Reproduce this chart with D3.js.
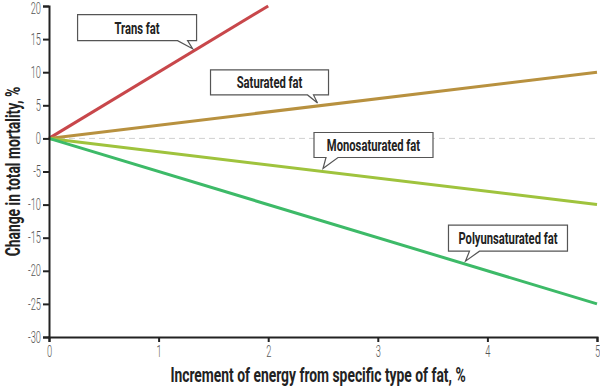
<!DOCTYPE html>
<html>
<head>
<meta charset="utf-8">
<script src="https://cdn.jsdelivr.net/npm/d3@7"></script>
<style>
body { margin: 0; background: #fff; }
svg text { font-family: "Roboto", "DejaVu Sans", sans-serif; }
.tick text { fill: #555; font-size: 16px; font-weight: 300; }
.title { font-weight: bold; font-size: 21px; fill: #222; }
.callout text { font-weight: bold; font-size: 17px; fill: #222; }
</style>
</head>
<body>
<svg id="chart"></svg>
<script>
// dati
var fatNames = ["Trans fat", "Saturated fat", "Monosaturated fat", "Polyunsaturated fat"];
var fatColors = ["#c8474b", "#b8913f", "#9fc33d", "#3dba68"];
var lineX = [[0, 2], [0, 5], [0, 5], [0, 5]];
var lineY = [[0, 20], [0, 10], [0, -10], [0, -25]];
var xTicks = [0, 1, 2, 3, 4, 5];
var yTicks = [20, 15, 10, 5, 0, -5, -10, -15, -20, -25, -30];
// dove punta la freccia di ogni etichetta (valore x sulla linea)
var calloutAt = [1.31, 2.45, 2.5, 3.8];

var width = 600, height = 387;
var margin = {top: 6, right: 3, bottom: 50, left: 49};
var squeeze = 0.66; // il font originale e' molto stretto
var tickSqueeze = 0.58;

var svg = d3.select("#chart").attr("width", width).attr("height", height);

var x = d3.scaleLinear().domain([0, 5]).range([margin.left, width - margin.right]);
var y = d3.scaleLinear().domain([-30, 20]).range([height - margin.bottom, margin.top]);

// linea tratteggiata sullo zero
svg.append("line")
  .attr("x1", x(0)).attr("x2", x(5))
  .attr("y1", y(0)).attr("y2", y(0))
  .attr("stroke", "#d0d0d0").attr("stroke-width", 1)
  .attr("stroke-dasharray", "6,4");

var line = d3.line().x(function(d){ return x(d[0]); }).y(function(d){ return y(d[1]); });

for (var i = 0; i < fatNames.length; i++) {
  var pts = lineX[i].map(function(v, j){ return [v, lineY[i][j]]; });
  svg.append("path")
    .datum(pts)
    .attr("d", line)
    .attr("fill", "none")
    .attr("stroke", fatColors[i])
    .attr("stroke-width", 3);
}

// assi
var fmt = function(d){ return String(d); };
var yAxis = svg.append("g")
  .attr("transform", "translate(" + x(0) + ",0)")
  .call(d3.axisLeft(y).tickValues(yTicks).tickFormat(fmt).tickSize(6).tickPadding(3));
var xAxis = svg.append("g")
  .attr("transform", "translate(0," + y(-30) + ")")
  .call(d3.axisBottom(x).tickValues(xTicks).tickFormat(fmt).tickSize(5).tickPadding(4));
[xAxis, yAxis].forEach(function(a){
  a.select(".domain").attr("stroke", "#222").attr("stroke-width", 2);
  a.selectAll(".tick line").attr("stroke", "#222").attr("stroke-width", 2);
  a.selectAll(".tick text").attr("transform", "scale(" + tickSqueeze + ",1)");
});
yAxis.selectAll(".tick text").attr("x", -8 / tickSqueeze);
yAxis.selectAll(".tick").filter(function(d){ return d == 20; }).select("text").attr("dy", "0.45em");

svg.append("text").attr("class", "title")
  .attr("text-anchor", "middle")
  .attr("transform", "translate(20," + ((y(20) + y(-30)) / 2) + ") rotate(-90) scale(" + squeeze + ",1)")
  .text("Change in total mortality, %");
svg.append("text").attr("class", "title")
  .attr("text-anchor", "middle")
  .attr("transform", "translate(" + ((x(0) + x(5)) / 2 - 5) + ",382) scale(" + squeeze + ",1)")
  .text("Increment of energy from specific type of fat, %");

// etichette a fumetto: box posizionati rispetto alla punta
var boxes = [
  {dx: -115, dy: -34, w: 119, h: 26, b1: -15, b2: -5},
  {dx: -107, dy: -33, w: 118, h: 25, b1: -10, b2: -4},
  {dx: -9, dy: -36, w: 119, h: 25, b1: 3, b2: 15},
  {dx: -17, dy: -36, w: 119, h: 26, b1: 4, b2: 14}
];

for (var i = 0; i < fatNames.length; i++) {
  var cx = calloutAt[i];
  var slope = lineY[i][1] / lineX[i][1];
  var tx = x(cx), ty = y(cx * slope) - 3;
  var b = boxes[i];
  var bx = tx + b.dx, by = ty + b.dy, bw = b.w, bh = b.h;
  var g = svg.append("g").attr("class", "callout");
  var p = d3.path();
  p.moveTo(bx, by);
  p.lineTo(bx + bw, by);
  p.lineTo(bx + bw, by + bh);
  p.lineTo(tx + b.b2, by + bh);
  p.lineTo(tx, ty);
  p.lineTo(tx + b.b1, by + bh);
  p.lineTo(bx, by + bh);
  p.closePath();
  g.append("path").attr("d", p.toString())
    .attr("fill", "#fff").attr("stroke", "#555").attr("stroke-width", 1.2);
  g.append("text")
    .attr("transform", "translate(" + (bx + bw / 2) + "," + (by + bh / 2 + 6) + ") scale(" + squeeze + ",1)")
    .attr("text-anchor", "middle")
    .text(fatNames[i]);
}
</script>
</body>
</html>
